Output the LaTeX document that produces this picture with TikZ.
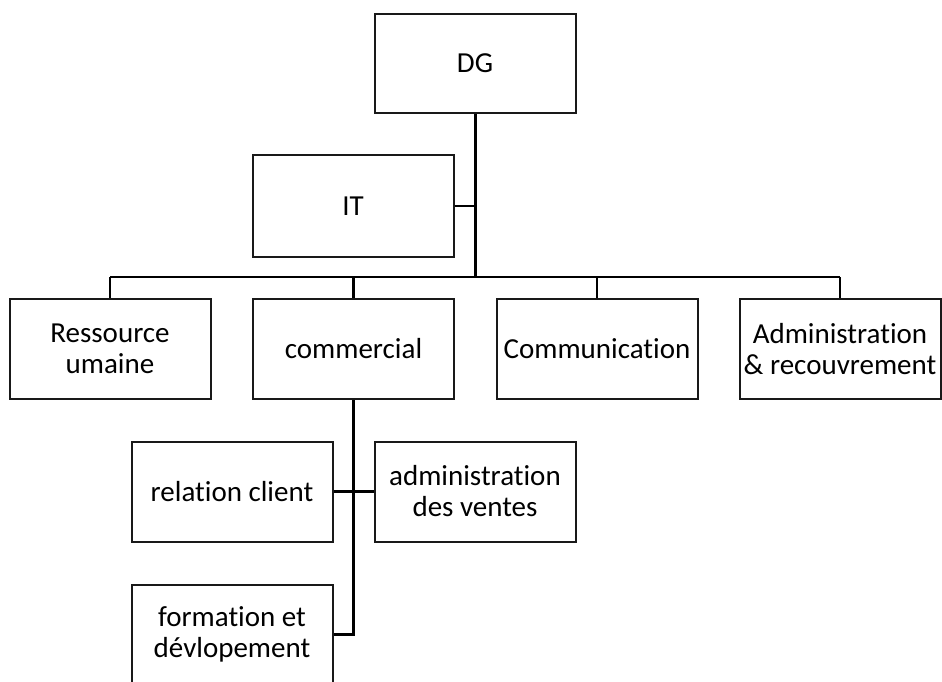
\documentclass[tikz,border=0pt]{standalone}
\usepackage{fontspec}
\setmainfont{Carlito}[Ligatures={NoCommon}]
\begin{document}
\begin{tikzpicture}[x=1pt,y=-1pt,
  unit/.style={draw=black!90, line width=2pt, inner sep=0pt, align=center,
    minimum width=201pt, minimum height=100pt,
    font=\fontsize{29pt}{31pt}\selectfont},
  link/.style={line width=2.2pt, black},
  trunk/.style={line width=3pt, black}]
  \useasboundingbox (0,0) rectangle (942,682);

  % boxes
  \node[unit, minimum height=99pt]  (dg)    at (475,63.5)  {DG};
  \node[unit, minimum height=102pt] (it)    at (353,206)   {IT};
  \node[unit] (rh)    at (110,349)   {Ressource\\umaine};
  \node[unit] (com)   at (353.5,349) {commercial};
  \node[unit] (comm)  at (597,349)   {Communication};
  \node[unit] (adm)   at (840,349)   {Administration\\\& recouvrement};
  \node[unit] (rel)   at (232,491.5) {relation client};
  \node[unit] (adv)   at (475,491.5) {administration\\des ventes};
  \node[unit] (form)  at (232,634.5) {formation et\\dévlopement};

  % hierarchy lines
  \coordinate (bus) at (475,277);
  \draw[trunk] (dg.south) -- (bus);
  \draw[link] (it.east) -- (it.east -| bus);
  \draw[link] (rh.north |- bus) -- (adm.north |- bus);
  \draw[link] (rh.north |- bus) -- (rh.north);
  \draw[link] (com.north |- bus) -- (com.north);
  \draw[link] (comm.north |- bus) -- (comm.north);
  \draw[link] (adm.north |- bus) -- (adm.north);

  % commercial sub-units
  \draw[trunk] (com.south) -- (com.south |- form.east) -- (form.east);
  \draw[link] (rel.east) -- (adv.west);
\end{tikzpicture}
\end{document}
